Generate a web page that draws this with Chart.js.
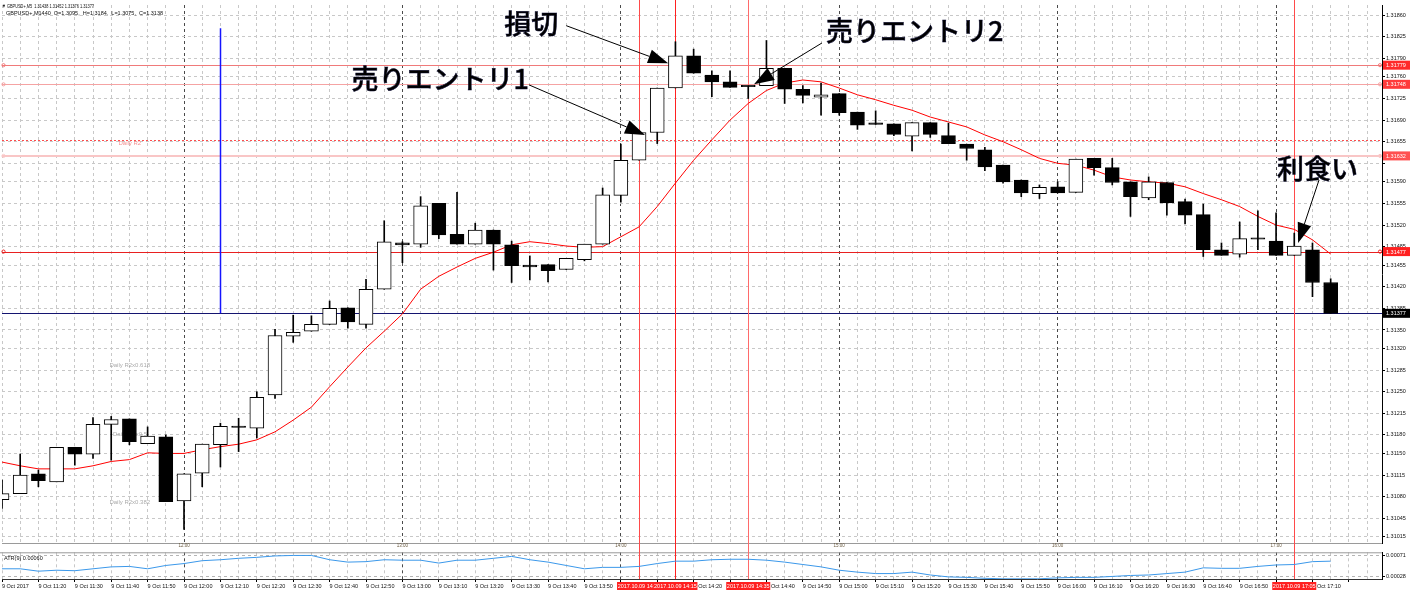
<!DOCTYPE html>
<html>
<head>
<meta charset="utf-8">
<script src="https://cdn.jsdelivr.net/npm/chart.js@4.4.1/dist/chart.umd.min.js"></script>
<style>
  html, body { margin: 0; padding: 0; background: #fff; }
  #wrap { position: relative; width: 1410px; height: 593px; overflow: hidden; background: #fff; }
  #mainBox { position: absolute; left: 0; top: 0; width: 1410px; height: 548px; }
  #atrBox { position: absolute; left: 0; top: 548px; width: 1410px; height: 45px; }
</style>
</head>
<body>
<div id="wrap">
  <div id="mainBox"><canvas id="mainChart"></canvas></div>
  <div id="atrBox"><canvas id="atrChart"></canvas></div>
</div>
<script>
// ---- Daten (GBPUSD+, M5, 9 Oct 2017 11:10 - 17:15) ----
const tickTimes = [
  "9 Oct 2017", "9 Oct 11:20", "9 Oct 11:30", "9 Oct 11:40", "9 Oct 11:50", "9 Oct 12:00",
  "9 Oct 12:10", "9 Oct 12:20", "9 Oct 12:30", "9 Oct 12:40", "9 Oct 12:50", "9 Oct 13:00",
  "9 Oct 13:10", "9 Oct 13:20", "9 Oct 13:30", "9 Oct 13:40", "9 Oct 13:50", "9 Oct 14:00",
  "9 Oct 14:10", "9 Oct 14:20", "9 Oct 14:30", "9 Oct 14:40", "9 Oct 14:50", "9 Oct 15:00",
  "9 Oct 15:10", "9 Oct 15:20", "9 Oct 15:30", "9 Oct 15:40", "9 Oct 15:50", "9 Oct 16:00",
  "9 Oct 16:10", "9 Oct 16:20", "9 Oct 16:30", "9 Oct 16:40", "9 Oct 16:50", "9 Oct 17:00",
  "9 Oct 17:10"
];

const opens = [
  1.31075, 1.31085, 1.31117, 1.31104, 1.31160, 1.31149, 1.31197, 1.31206, 1.31166, 1.31177,
  1.31073, 1.31118, 1.31164, 1.31194, 1.31191, 1.31245, 1.31340, 1.31348, 1.31359, 1.31386,
  1.31359, 1.31416, 1.31491, 1.31489, 1.31555, 1.31505, 1.31489, 1.31512, 1.31488, 1.31455,
  1.31456, 1.31448, 1.31464, 1.31489, 1.31568, 1.31625, 1.31670, 1.31742, 1.31794, 1.31763,
  1.31752, 1.31745, 1.31746, 1.31774, 1.31740, 1.31727, 1.31733, 1.31703, 1.31685, 1.31684,
  1.31664, 1.31686, 1.31665, 1.31651, 1.31642, 1.31617, 1.31593, 1.31571, 1.31582, 1.31573,
  1.31628, 1.31613, 1.31590, 1.31564, 1.31589, 1.31558, 1.31537, 1.31480, 1.31473, 1.31498,
  1.31494, 1.31471, 1.31480, 1.31427
];
const highs = [
  1.31107, 1.31149, 1.31123, 1.31160, 1.31160, 1.31208, 1.31210, 1.31206, 1.31193, 1.31180,
  1.31117, 1.31165, 1.31199, 1.31207, 1.31250, 1.31351, 1.31374, 1.31373, 1.31397, 1.31386,
  1.31432, 1.31527, 1.31493, 1.31566, 1.31555, 1.31573, 1.31523, 1.31512, 1.31494, 1.31470,
  1.31456, 1.31466, 1.31489, 1.31580, 1.31651, 1.31670, 1.31742, 1.31817, 1.31805, 1.31770,
  1.31770, 1.31745, 1.31819, 1.31774, 1.31746, 1.31750, 1.31733, 1.31703, 1.31705, 1.31684,
  1.31686, 1.31686, 1.31685, 1.31651, 1.31646, 1.31617, 1.31593, 1.31585, 1.31590, 1.31627,
  1.31628, 1.31628, 1.31590, 1.31598, 1.31589, 1.31562, 1.31554, 1.31491, 1.31525, 1.31543,
  1.31540, 1.31507, 1.31491, 1.31433
];
const lows = [
  1.31061, 1.31085, 1.31096, 1.31104, 1.31131, 1.31142, 1.31139, 1.31164, 1.31166, 1.31072,
  1.31027, 1.31096, 1.31128, 1.31153, 1.31175, 1.31239, 1.31330, 1.31348, 1.31359, 1.31353,
  1.31353, 1.31416, 1.31459, 1.31484, 1.31498, 1.31489, 1.31489, 1.31447, 1.31427, 1.31431,
  1.31428, 1.31448, 1.31462, 1.31489, 1.31557, 1.31625, 1.31652, 1.31742, 1.31766, 1.31728,
  1.31743, 1.31725, 1.31746, 1.31717, 1.31718, 1.31698, 1.31698, 1.31675, 1.31683, 1.31665,
  1.31640, 1.31662, 1.31652, 1.31625, 1.31608, 1.31588, 1.31566, 1.31563, 1.31572, 1.31573,
  1.31601, 1.31585, 1.31534, 1.31561, 1.31536, 1.31522, 1.31469, 1.31471, 1.31468, 1.31480,
  1.31471, 1.31471, 1.31404, 1.31377
];
const closes = [
  1.31085, 1.31115, 1.31106, 1.31160, 1.31149, 1.31197, 1.31205, 1.31169, 1.31178, 1.31072,
  1.31117, 1.31165, 1.31194, 1.31192, 1.31241, 1.31341, 1.31346, 1.31359, 1.31385, 1.31363,
  1.31416, 1.31493, 1.31488, 1.31551, 1.31504, 1.31489, 1.31512, 1.31489, 1.31454, 1.31452,
  1.31446, 1.31466, 1.31489, 1.31569, 1.31625, 1.31670, 1.31742, 1.31794, 1.31766, 1.31752,
  1.31743, 1.31744, 1.31774, 1.31740, 1.31730, 1.31731, 1.31702, 1.31682, 1.31683, 1.31667,
  1.31686, 1.31667, 1.31652, 1.31644, 1.31614, 1.31590, 1.31572, 1.31581, 1.31572, 1.31627,
  1.31613, 1.31589, 1.31566, 1.31590, 1.31556, 1.31536, 1.31480, 1.31471, 1.31498, 1.31497,
  1.31471, 1.31486, 1.31427, 1.31377
];

// gleitender Durchschnitt (rote Linie)
const maLine = [
  1.31136, 1.31130, 1.31125, 1.31125, 1.31125, 1.31130, 1.31137, 1.31140, 1.31151, 1.31150,
  1.31150, 1.31156, 1.31161, 1.31165, 1.31172, 1.31185, 1.31204, 1.31225, 1.31258, 1.31290,
  1.31321, 1.31348, 1.31376, 1.31416, 1.31437, 1.31452, 1.31466, 1.31476, 1.31488, 1.31493,
  1.31490, 1.31486, 1.31484, 1.31485, 1.31501, 1.31517, 1.31550, 1.31588, 1.31625, 1.31658,
  1.31690, 1.31717, 1.31738, 1.31750, 1.31755, 1.31752, 1.31742, 1.31731, 1.31723, 1.31714,
  1.31706, 1.31695, 1.31687, 1.31679, 1.31666, 1.31655, 1.31642, 1.31628, 1.31620, 1.31617,
  1.31609, 1.31598, 1.31593, 1.31590, 1.31588, 1.31582, 1.31571, 1.31561, 1.31550, 1.31534,
  1.31520, 1.31513, 1.31496, 1.31473
];

// ATR(9)
const atrLine = [
  0.00044, 0.00044, 0.00039, 0.00041, 0.00040, 0.00044, 0.00048, 0.00049, 0.00044, 0.00051,
  0.00055, 0.00061, 0.00063, 0.00066, 0.00068, 0.00071, 0.00072, 0.00072, 0.00063, 0.00058,
  0.00059, 0.00063, 0.00062, 0.00062, 0.00056, 0.00062, 0.00062, 0.00066, 0.00070, 0.00063,
  0.00058, 0.00051, 0.00044, 0.00047, 0.00047, 0.00049, 0.00055, 0.00060, 0.00060, 0.00063,
  0.00064, 0.00064, 0.00062, 0.00058, 0.00053, 0.00048, 0.00041, 0.00037, 0.00034, 0.00034,
  0.00037, 0.00031, 0.00027, 0.00026, 0.00024, 0.00023, 0.00023, 0.00023, 0.00025, 0.00026,
  0.00026, 0.00028, 0.00030, 0.00031, 0.00034, 0.00037, 0.00046, 0.00045, 0.00045, 0.00049,
  0.00052, 0.00053, 0.00059, 0.00060
];

const priceTicks = [
  1.31015, 1.31045, 1.31080, 1.31115, 1.31150, 1.31180, 1.31215, 1.31250, 1.31285, 1.31320,
  1.31350, 1.31385, 1.31420, 1.31455, 1.31485, 1.31520, 1.31555, 1.31590, 1.31620, 1.31655,
  1.31690, 1.31725, 1.31760, 1.31790, 1.31825, 1.31860
];
const atrTicks = [0.00028, 0.00071];

// horizontale Linien (Stop, Entry, Pivot, TP, Bid)
const levelPrices = [1.31779, 1.31748, 1.31658, 1.31632, 1.31477, 1.31377];
// vertikale Zeitlinien
const markIdx = [35, 37, 41, 71];
const markTimes = ["2017.10.09 14:05", "2017.10.09 14:15", "2017.10.09 14:35", "2017.10.09 17:05"];
// Stundentrenner
const hourIdx = [10, 22, 34, 46, 58, 70];
const hourNames = ["12:00", "13:00", "14:00", "15:00", "16:00", "17:00"];
// Pivot-Beschriftungen
const pivotNames = ["Daily R2", "Daily R2x0.618", "Daily R2x0.5", "Daily R2x0.382"];
const pivotPrices = [1.31653, 1.31292, 1.31181, 1.31071];
const pivotIdx = [6.4, 5.9, 6.1, 5.9];
// blaue senkrechte Linie
const blueIdx = 12;
const blueRange = [1.31377, 1.31839];

// Notizen mit Pfeil: [Index, Preis]
const notes = [
  { text: "損切", at: [27.6, 1.31846], from: [31.0, 1.31843], to: [36.6, 1.31782] },
  { text: "売りエントリ1", at: [19.2, 1.31757], from: [28.96, 1.31747], to: [35.33, 1.31666] },
  { text: "売りエントリ2", at: [45.27, 1.31834], from: [45.05, 1.31815], to: [41.32, 1.31748] },
  { text: "利食い", at: [70.05, 1.31612], from: [72.36, 1.31593], to: [71.21, 1.31491] }
];

const header1 = "▼ GBPUSD+,M5  1.31438 1.31452 1.31376 1.31377";
const header2 = "GBPUSD+,M1440  O=1.3095,  H=1.3184,  L=1.3075,  C=1.3138";
const atrTitle = "ATR(9) 0.00060";

// ---- Layout / Stil ----
const X_MAX = 75.82;
const Y_MIN = 1.310049, Y_MAX = 1.318765;
const ATR_MIN = 0.000226, ATR_MAX = 0.000786;
const AXIS_W = 28;
const gridIdx = Array.from({ length: 76 }, (_, i) => i);
const tinyFont = { family: "Liberation Sans", size: 5.5 };

const levelStyle = [
  { color: "#f07a7a", width: 1, dash: [], tag: "#ff2a2a" },
  { color: "#f5a3a3", width: 1, dash: [], tag: "#ff3b3b" },
  { color: "#ff4d4d", width: 1, dash: [2, 2], tag: null },
  { color: "#f9c6c6", width: 2, dash: [], tag: "#ff5050" },
  { color: "#e82020", width: 1, dash: [], tag: "#ff2020" },
  { color: "#141470", width: 1, dash: [], tag: "#000000" }
];
const markColors = ["#ff4a4a", "#ff2020", "#ff6a6a", "#ff4a4a"];

function hideLabel(v) {
  return levelPrices.some((p, k) => levelStyle[k].tag && p - v > 0 && p - v < 0.00015);
}

function drawArrow(ctx, x1, y1, x2, y2) {
  const ang = Math.atan2(y2 - y1, x2 - x1);
  const len = 20, half = 7;
  const bx = x2 - len * Math.cos(ang);
  const by = y2 - len * Math.sin(ang);
  ctx.beginPath();
  ctx.moveTo(x1, y1);
  ctx.lineTo(bx, by);
  ctx.stroke();
  ctx.beginPath();
  ctx.moveTo(x2, y2);
  ctx.lineTo(bx + half * Math.sin(ang), by - half * Math.cos(ang));
  ctx.lineTo(bx - half * Math.sin(ang), by + half * Math.cos(ang));
  ctx.closePath();
  ctx.fill();
}

function drawMarks(chart, bottom) {
  const { ctx, scales: { x } } = chart;
  markIdx.forEach((i, k) => {
    const px = Math.round(x.getPixelForValue(i)) + 0.5;
    ctx.strokeStyle = markColors[k];
    ctx.lineWidth = 1;
    ctx.setLineDash([]);
    ctx.beginPath();
    ctx.moveTo(px, 0);
    ctx.lineTo(px, bottom);
    ctx.stroke();
  });
}

// ---- Hauptfenster: Objekte ----
const mainDraw = {
  id: "mainDraw",
  beforeDatasetsDraw(chart) {
    const { ctx, chartArea: a, scales: { x, y } } = chart;
    ctx.save();

    levelPrices.forEach((p, k) => {
      const s = levelStyle[k];
      const py = Math.round(y.getPixelForValue(p)) + (s.width % 2 ? 0.5 : 0);
      ctx.strokeStyle = s.color;
      ctx.lineWidth = s.width;
      ctx.setLineDash(s.dash);
      ctx.beginPath();
      ctx.moveTo(a.left, py);
      ctx.lineTo(a.right, py);
      ctx.stroke();
    });
    ctx.setLineDash([]);

    drawMarks(chart, chart.height);

    // blaue Linie
    const bx = Math.round(x.getPixelForValue(blueIdx)) + 0.5;
    ctx.strokeStyle = "#1414ff";
    ctx.lineWidth = 1.5;
    ctx.beginPath();
    ctx.moveTo(bx, y.getPixelForValue(blueRange[1]));
    ctx.lineTo(bx, y.getPixelForValue(blueRange[0]));
    ctx.stroke();

    // Pivot-Texte
    ctx.font = '6px "Liberation Sans"';
    ctx.textBaseline = "middle";
    ctx.textAlign = "left";
    pivotNames.forEach((t, k) => {
      ctx.fillStyle = k === 0 ? "#f29393" : "#ababab";
      ctx.fillText(t, x.getPixelForValue(pivotIdx[k]), y.getPixelForValue(pivotPrices[k]));
    });

    ctx.restore();
  },
  afterDraw(chart) {
    const { ctx, chartArea: a, scales: { x, y } } = chart;
    ctx.save();

    // Pfeile + Notizen
    ctx.strokeStyle = "#000";
    ctx.fillStyle = "#000";
    ctx.lineWidth = 1;
    notes.forEach(n => {
      drawArrow(ctx,
        x.getPixelForValue(n.from[0]), y.getPixelForValue(n.from[1]),
        x.getPixelForValue(n.to[0]), y.getPixelForValue(n.to[1]));
    });
    ctx.font = '500 27px "Noto Sans CJK JP"';
    ctx.textBaseline = "middle";
    ctx.textAlign = "left";
    ctx.strokeStyle = "#0a0a30";
    ctx.lineWidth = 0.5;
    notes.forEach(n => {
      const tx = x.getPixelForValue(n.at[0]);
      const ty = y.getPixelForValue(n.at[1]);
      ctx.fillText(n.text, tx, ty);
      ctx.strokeText(n.text, tx, ty);
    });

    // Kopfzeilen
    ctx.font = '5.5px "Liberation Sans"';
    ctx.fillStyle = "#111";
    ctx.fillText(header1, 2, 6, 92);
    ctx.fillText(header2, 6, 13.5, 160);

    // Stunden-Beschriftung unter dem Fenster
    ctx.font = '4.5px "Liberation Sans"';
    ctx.textAlign = "center";
    ctx.fillStyle = "#6a5a40";
    hourIdx.forEach((i, k) => {
      ctx.fillText(hourNames[k], x.getPixelForValue(i), a.bottom + 3);
    });

    // Preismarken an der rechten Achse
    ctx.textAlign = "left";
    ctx.font = '5.5px "Liberation Sans"';
    levelPrices.forEach((p, k) => {
      const s = levelStyle[k];
      if (!s.tag) return;
      const py = y.getPixelForValue(p);
      ctx.fillStyle = s.tag;
      ctx.fillRect(a.right + 1, py - 4.5, AXIS_W, 9);
      ctx.fillStyle = "#fff";
      ctx.fillText(p.toFixed(5), a.right + 4, py + 0.5);
      if (k < levelPrices.length - 1) {
        ctx.strokeStyle = s.color;
        ctx.lineWidth = 1;
        ctx.beginPath();
        ctx.arc(a.right - 2, py, 1.6, 0, Math.PI * 2);
        ctx.stroke();
        ctx.beginPath();
        ctx.arc(a.left + 1.5, py, 1.6, 0, Math.PI * 2);
        ctx.stroke();
      }
    });

    ctx.restore();
  }
};

// ---- ATR-Fenster: Objekte ----
const atrDraw = {
  id: "atrDraw",
  beforeDatasetsDraw(chart) {
    const { ctx, chartArea: a } = chart;
    ctx.save();
    ctx.strokeStyle = "#9a9a9a";
    ctx.lineWidth = 1;
    ctx.beginPath();
    ctx.moveTo(0, a.top + 0.5);
    ctx.lineTo(a.right, a.top + 0.5);
    ctx.stroke();
    drawMarks(chart, a.bottom);
    ctx.restore();
  },
  afterDraw(chart) {
    const { ctx, chartArea: a, scales: { x } } = chart;
    ctx.save();
    ctx.font = '5.5px "Liberation Sans"';
    ctx.fillStyle = "#111";
    ctx.textBaseline = "middle";
    ctx.fillText(atrTitle, a.left + 2, a.top + 6);

    // rote Zeitmarken auf der Zeitachse
    ctx.textAlign = "center";
    markIdx.forEach((i, k) => {
      const px = x.getPixelForValue(i);
      ctx.fillStyle = "#ff2020";
      ctx.fillRect(px - 22, a.bottom + 3, 44, 8);
      ctx.fillStyle = "#fff";
      ctx.fillText(markTimes[k], px, a.bottom + 7.2);
    });
    ctx.restore();
  }
};

// ---- Hauptchart ----
new Chart(document.getElementById("mainChart"), {
  type: "bar",
  data: {
    datasets: [
      {
        label: "Körper",
        data: opens.map((o, i) => ({ x: i, y: [o, closes[i]] })),
        backgroundColor: ctx => closes[ctx.dataIndex] >= opens[ctx.dataIndex] ? "#ffffff" : "#000000",
        borderColor: "#000",
        borderWidth: 1,
        borderSkipped: false,
        barThickness: 14,
        minBarLength: 1.5,
        grouped: false,
        order: 1
      },
      {
        label: "Docht",
        data: lows.map((l, i) => ({ x: i, y: [l, highs[i]] })),
        backgroundColor: "#000",
        borderWidth: 0,
        barThickness: 1,
        grouped: false,
        order: 2
      },
      {
        type: "line",
        label: "MA",
        data: maLine.map((v, i) => ({ x: i, y: v })),
        borderColor: "#ff0000",
        borderWidth: 1,
        pointRadius: 0,
        tension: 0,
        order: 3
      }
    ]
  },
  options: {
    responsive: true,
    maintainAspectRatio: false,
    animation: false,
    layout: { padding: { left: 2, top: 5, bottom: 5, right: 0 } },
    plugins: { legend: { display: false }, tooltip: { enabled: false } },
    scales: {
      x: {
        type: "linear",
        min: 0,
        max: X_MAX,
        offset: false,
        afterBuildTicks: s => { s.ticks = gridIdx.map(v => ({ value: v })); },
        ticks: { display: false, autoSkip: false },
        grid: {
          offset: false,
          drawTicks: false,
          color: ctx => ctx.tick && hourIdx.includes(ctx.tick.value) ? "#4a4a4a" : "#c8c8c8"
        },
        border: { display: true, color: "#9a9a9a", dash: [3, 3] }
      },
      y: {
        position: "right",
        min: Y_MIN,
        max: Y_MAX,
        afterBuildTicks: s => { s.ticks = priceTicks.map(v => ({ value: v })); },
        afterFit: s => { s.width = AXIS_W; },
        ticks: {
          autoSkip: false,
          padding: 1,
          color: "#111",
          font: tinyFont,
          callback: v => hideLabel(v) ? "" : v.toFixed(5)
        },
        grid: { color: "#c8c8c8", tickLength: 3, tickColor: "#000", tickBorderDash: [] },
        border: { display: true, color: "#000", dash: [3, 3] }
      }
    }
  },
  plugins: [mainDraw]
});

// ---- ATR-Chart ----
new Chart(document.getElementById("atrChart"), {
  type: "line",
  data: {
    datasets: [
      {
        label: "ATR(9)",
        data: atrLine.map((v, i) => ({ x: i, y: v })),
        borderColor: "#3b98ea",
        borderWidth: 1,
        pointRadius: 0,
        tension: 0
      }
    ]
  },
  options: {
    responsive: true,
    maintainAspectRatio: false,
    animation: false,
    layout: { padding: { left: 2, top: 4, bottom: 0, right: 0 } },
    plugins: { legend: { display: false }, tooltip: { enabled: false } },
    scales: {
      x: {
        type: "linear",
        min: 0,
        max: X_MAX,
        offset: false,
        afterBuildTicks: s => { s.ticks = gridIdx.map(v => ({ value: v })); },
        afterFit: s => { s.height = 14; },
        ticks: {
          autoSkip: false,
          maxRotation: 0,
          align: "start",
          padding: 1,
          color: "#111",
          font: tinyFont,
          callback: v => (v % 2 === 0 && tickTimes[v / 2]) ? tickTimes[v / 2] : ""
        },
        grid: {
          offset: false,
          tickLength: 3,
          tickBorderDash: [],
          color: ctx => ctx.tick && hourIdx.includes(ctx.tick.value) ? "#4a4a4a" : "#c8c8c8",
          tickColor: ctx => ctx.tick && ctx.tick.value % 2 === 0 ? "#000" : "rgba(0,0,0,0)"
        },
        border: { display: true, color: "#333", dash: [3, 3] }
      },
      y: {
        position: "right",
        min: ATR_MIN,
        max: ATR_MAX,
        afterBuildTicks: s => { s.ticks = atrTicks.map(v => ({ value: v })); },
        afterFit: s => { s.width = AXIS_W; },
        ticks: { autoSkip: false, padding: 1, color: "#111", font: tinyFont, callback: v => v.toFixed(5) },
        grid: { color: "#b5b5b5", tickLength: 3, tickColor: "#000", tickBorderDash: [] },
        border: { display: true, color: "#000", dash: [3, 3] }
      }
    }
  },
  plugins: [atrDraw]
});
</script>
</body>
</html>
